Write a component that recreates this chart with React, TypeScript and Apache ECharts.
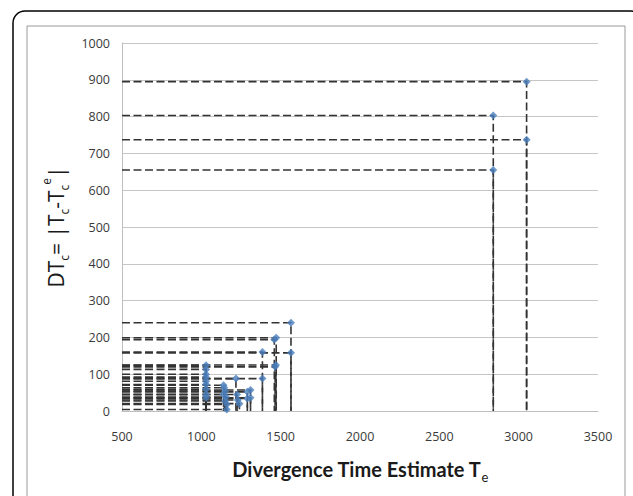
import React, { useEffect, useRef } from "react";
import * as echarts from "echarts";

// Divergence time estimate Te (x) and DTc = |Tc - Tc^e| (y)
const teValues = [
  3050, 3050, 2840, 2840,
  1565, 1565, 1472, 1460, 1465, 1470, 1385, 1385, 1218,
  1030, 1030, 1030, 1030, 1030, 1030, 1030, 1030, 1030,
  1140, 1145, 1150, 1140, 1155, 1150, 1160, 1160,
  1225, 1240, 1230, 1290, 1310, 1290, 1310,
];
const dtValues = [
  895, 737, 803, 655,
  240, 158, 199, 194, 120, 125, 160, 88, 88,
  124, 113, 100, 92, 81, 72, 59, 45, 36,
  70, 63, 54, 45, 38, 27, 18, 4,
  45, 20, 30, 52, 57, 34, 36,
];
const xTicks = [500, 1000, 1500, 2000, 2500, 3000, 3500];
const yTicks = [0, 100, 200, 300, 400, 500, 600, 700, 800, 900, 1000];

const X_MIN = xTicks[0];
const X_MAX = xTicks[xTicks.length - 1];
const Y_MIN = yTicks[0];
const Y_MAX = yTicks[yTicks.length - 1];

export default function App() {
  const ref = useRef<HTMLDivElement>(null);
  useEffect(() => {
    if (!ref.current) return;
    const chart = echarts.init(ref.current, undefined, { renderer: "svg" });
    const points = teValues.map((x, i) => [x, dtValues[i]]);
    const labelStyle = { fontFamily: "Open Sans", fontSize: 12.5, color: "#3a3a3a" };
    chart.setOption({
      animation: false,
      backgroundColor: "#ffffff",
      graphic: [
        {
          type: "rect",
          shape: { x: 13, y: 11, width: 630, height: 520, r: 12 },
          style: { fill: "none", stroke: "#000000", lineWidth: 1.5 },
          silent: true,
        },
        {
          type: "rect",
          shape: { x: 27, y: 26, width: 598, height: 500 },
          style: { fill: "none", stroke: "#9a9a9a", lineWidth: 1 },
          silent: true,
        },
      ],
      grid: { left: 122, right: 35, top: 43, bottom: 85, containLabel: false },
      xAxis: {
        type: "value",
        min: X_MIN,
        max: X_MAX,
        interval: 500,
        axisLine: { show: true, lineStyle: { color: "#bfbfbf", width: 1 } },
        axisTick: { show: false },
        splitLine: { show: false },
        axisLabel: { ...labelStyle, margin: 19, formatter: (v: number) => String(v) },
        name: "{b|Divergence Time Estimate T}{s|e}",
        nameLocation: "middle",
        nameGap: 44,
        nameTextStyle: {
          rich: {
            b: { fontFamily: "Lato", fontWeight: "bold", fontSize: 20, color: "#1a1a1a", lineHeight: 28, verticalAlign: "middle" },
            s: { fontFamily: "Lato", fontSize: 13, color: "#1a1a1a", lineHeight: 12, verticalAlign: "bottom" },
          },
        },
      },
      yAxis: {
        type: "value",
        min: Y_MIN,
        max: Y_MAX,
        interval: 100,
        axisLine: { show: true, lineStyle: { color: "#bfbfbf", width: 1 } },
        axisTick: { show: false },
        splitLine: { show: true, lineStyle: { color: "#c6c6c6", width: 1 } },
        axisLabel: { ...labelStyle, margin: 12, formatter: (v: number) => String(v) },
        name: "{n|DT}{s|c}{n|= |T}{s|c}{n|-T}{s|c}{p|e}{n||}",
        nameLocation: "middle",
        nameRotate: 90,
        nameGap: 40,
        nameTextStyle: {
          rich: {
            n: { fontFamily: "Open Sans", fontSize: 21, color: "#1a1a1a", lineHeight: 30, verticalAlign: "middle" },
            s: { fontFamily: "Open Sans", fontSize: 12, color: "#1a1a1a", lineHeight: 12, verticalAlign: "bottom" },
            p: { fontFamily: "Open Sans", fontSize: 12, color: "#1a1a1a", lineHeight: 12, verticalAlign: "top" },
          },
        },
      },
      series: [
        {
          type: "custom",
          data: points,
          encode: { x: 0, y: 1 },
          z: 2,
          renderItem: (_params: any, api: any) => {
            const x = api.value(0);
            const y = api.value(1);
            const pLeft = api.coord([X_MIN, y]);
            const p = api.coord([x, y]);
            const pBottom = api.coord([x, Y_MIN]);
            return {
              type: "polyline",
              shape: { points: [pLeft, p, pBottom] },
              style: { stroke: "#333333", lineWidth: 1.6, lineDash: [8, 3.5], fill: null },
            };
          },
        },
        {
          type: "scatter",
          data: points,
          symbol: "diamond",
          symbolSize: 8,
          z: 3,
          itemStyle: { color: "#4a7ebb" },
        },
      ],
    });
    return () => chart.dispose();
  }, []);
  return (
    <div
      ref={ref}
      style={{ position: "fixed", left: 0, top: 0, width: 633, height: 496 }}
    />
  );
}
